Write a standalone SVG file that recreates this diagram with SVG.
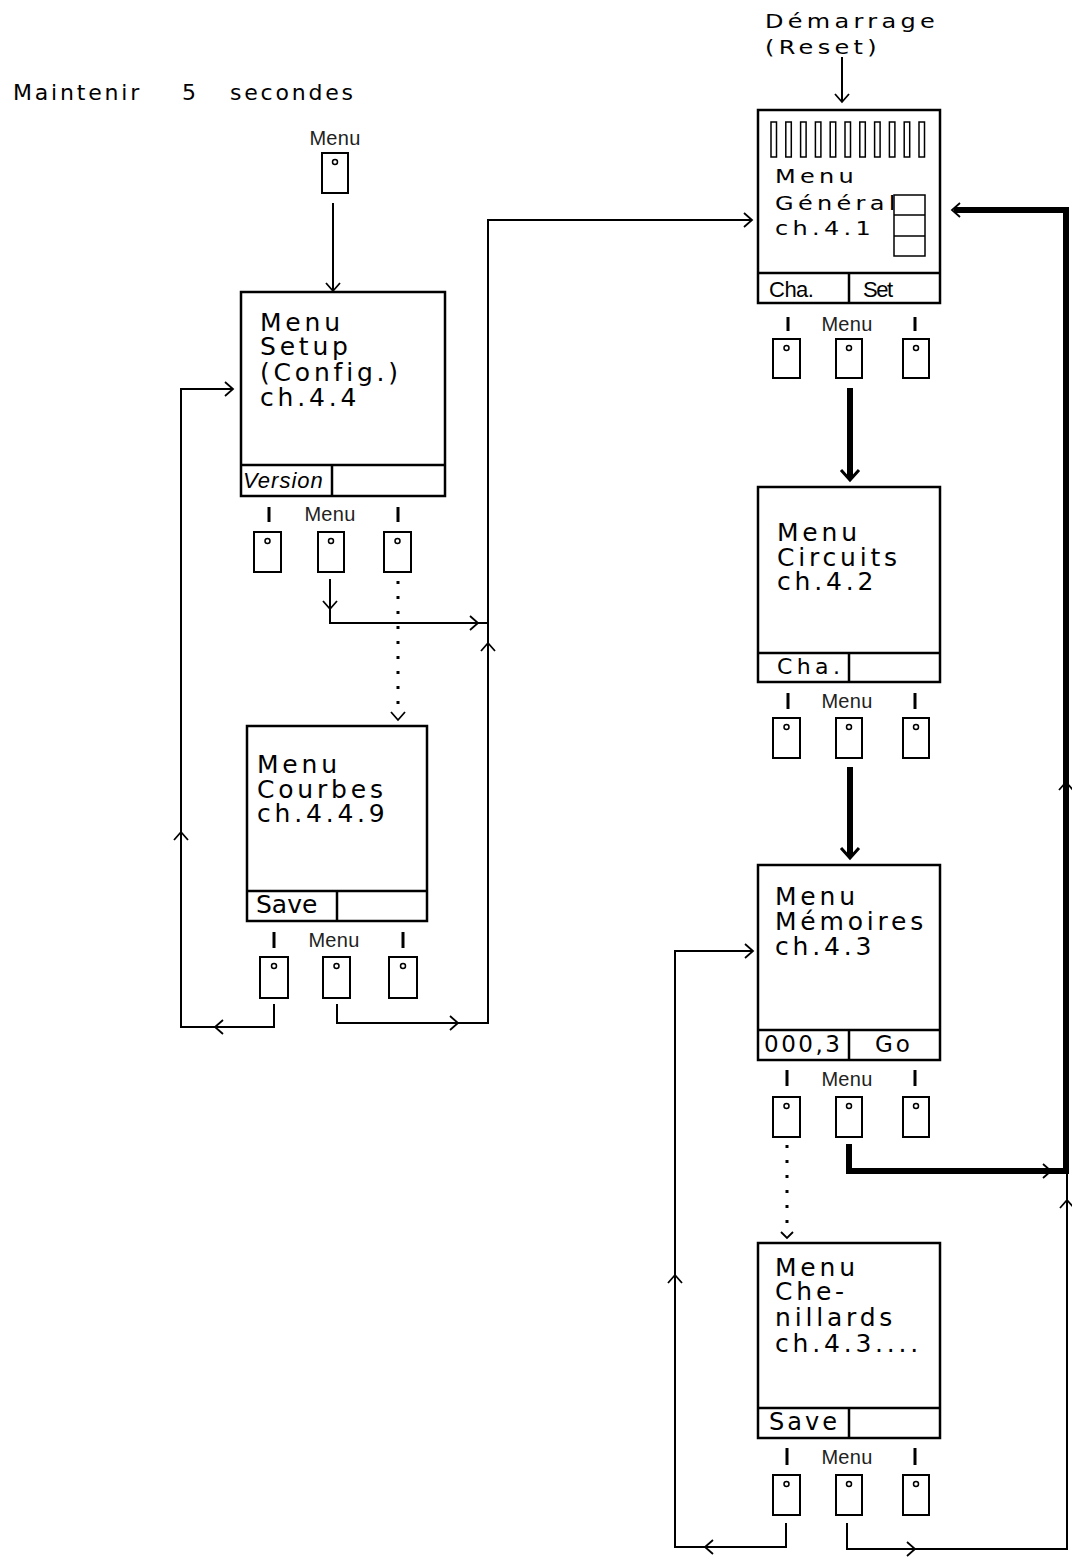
<svg xmlns="http://www.w3.org/2000/svg" xmlns:xlink="http://www.w3.org/1999/xlink" width="1072" height="1557" viewBox="0 0 1072 1557">
<style>
.box{fill:#fff;stroke:#000;stroke-width:2.5}
.sep{fill:none;stroke:#000;stroke-width:2.5}
.thin{fill:none;stroke:#000;stroke-width:1.5}
.t{font-family:"DejaVu Sans",Verdana,sans-serif;font-size:25px;letter-spacing:3.8px;fill:#000}
.tg{font-family:"DejaVu Sans",Verdana,sans-serif;font-size:20px;letter-spacing:3.6px;fill:#000}
.d{font-family:"DejaVu Sans",Verdana,sans-serif;fill:#000}
.f{font-family:"Liberation Sans",Arial,sans-serif;font-size:22px;fill:#000}
.lbl{font-family:"Liberation Sans",Arial,sans-serif;font-size:20px;letter-spacing:0.3px;fill:#222;text-anchor:middle}
.hdr{font-family:"DejaVu Sans",Verdana,sans-serif;font-size:22px;letter-spacing:2.8px;fill:#000}
.btn{fill:#fff;stroke:#000;stroke-width:2}
.bdot{fill:none;stroke:#000;stroke-width:1.5}
.tick{stroke:#000;stroke-width:3}
.ln{fill:none;stroke:#000;stroke-width:2}
.thk{fill:none;stroke:#000;stroke-width:6}
.dots{fill:none;stroke:#000;stroke-width:3;stroke-dasharray:3 12}
.ah{fill:none;stroke:#000;stroke-width:1.8}
.ahT{fill:none;stroke:#000;stroke-width:3}
</style>
<defs>
<path id="ah" d="M-8,-7 L0,0 L-8,7"/>
<path id="ahS" d="M-6,-6 L0,0 L-6,6"/>
<path id="ahT" d="M-10,-9 L0,0 L-10,9"/>
</defs>

<rect x="0" y="0" width="1072" height="1557" fill="#fff"/>

<text class="hdr" y="100"><tspan x="13">Maintenir</tspan><tspan x="182">5</tspan><tspan x="230">secondes</tspan></text>
<text class="tg" transform="translate(765,0) scale(1.2,1)" font-size="21" letter-spacing="2"><tspan x="0" y="28">Démarrage</tspan><tspan x="0" y="54">(Reset)</tspan></text>

<g id="connectors">
  <line class="ln" x1="842" y1="57" x2="842" y2="101"/>
  <use href="#ah" class="ah" transform="translate(842,102) rotate(90)"/>
  <line class="ln" x1="333" y1="203" x2="333" y2="290"/>
  <use href="#ah" class="ah" transform="translate(333,291) rotate(90)"/>
  <path class="ln" d="M330,579 V623 H488"/>
  <use href="#ah" class="ah" transform="translate(330,609) rotate(90)"/>
  <use href="#ah" class="ah" transform="translate(478,623)"/>
  <path class="ln" d="M337,1004 V1023 H488 V220 H752"/>
  <use href="#ah" class="ah" transform="translate(458,1023)"/>
  <use href="#ah" class="ah" transform="translate(488,643) rotate(-90)"/>
  <use href="#ah" class="ah" transform="translate(752,220)"/>
  <line class="dots" x1="398" y1="581" x2="398" y2="716"/>
  <use href="#ah" class="ah" transform="translate(398,720) rotate(90)"/>
  <path class="ln" d="M274,1004 V1027 H181 V389 H233"/>
  <use href="#ah" class="ah" transform="translate(215,1027) rotate(180)"/>
  <use href="#ah" class="ah" transform="translate(181,832) rotate(-90)"/>
  <use href="#ah" class="ah" transform="translate(233,389)"/>
  <line class="thk" x1="850" y1="388" x2="850" y2="478"/>
  <use href="#ahT" class="ahT" transform="translate(850,480) rotate(90)"/>
  <line class="thk" x1="850" y1="767" x2="850" y2="856"/>
  <use href="#ahT" class="ahT" transform="translate(850,858) rotate(90)"/>
  <path class="thk" d="M849,1144 V1171 H1066 V210 H954"/>
  <use href="#ah" class="ah" transform="translate(1051,1171)"/>
  <use href="#ah" class="ah" transform="translate(1066,782) rotate(-90)"/>
  <use href="#ah" class="ah" transform="translate(952,210) rotate(180)"/>
  <line class="dots" x1="787" y1="1145" x2="787" y2="1232"/>
  <use href="#ahS" class="ah" transform="translate(787,1238) rotate(90)"/>
  <path class="ln" d="M786,1523 V1547 H675 V951 H752"/>
  <use href="#ah" class="ah" transform="translate(705,1547) rotate(180)"/>
  <use href="#ah" class="ah" transform="translate(675,1275) rotate(-90)"/>
  <use href="#ah" class="ah" transform="translate(753,951)"/>
  <path class="ln" d="M847,1523 V1549 H1067 V1172"/>
  <use href="#ah" class="ah" transform="translate(915,1549)"/>
  <use href="#ah" class="ah" transform="translate(1067,1200) rotate(-90)"/>
</g>

<g id="menu-key">
  <text class="lbl" x="335" y="145">Menu</text>
  <rect class="btn" x="322" y="153" width="26" height="40"/>
  <circle class="bdot" cx="335" cy="162" r="2.5"/>
</g>

<g id="node-setup">
  <rect class="box" x="241" y="292" width="204" height="204"/>
  <line class="sep" x1="241" y1="465" x2="445" y2="465"/>
  <line class="sep" x1="332" y1="465" x2="332" y2="496"/>
  <text class="t"><tspan x="260" y="331">Menu</tspan><tspan x="260" y="355">Setup</tspan><tspan x="260" y="381">(Config.)</tspan><tspan x="260" y="406">ch.4.4</tspan></text>
  <text class="f" x="243" y="488" font-style="italic" letter-spacing="1">Version</text>
  <line class="tick" x1="269" y1="507" x2="269" y2="522"/>
  <line class="tick" x1="398" y1="507" x2="398" y2="522"/>
  <text class="lbl" x="330" y="521">Menu</text>
  <rect class="btn" x="254" y="532" width="27" height="40"/><circle class="bdot" cx="267.5" cy="541" r="2.5"/>
  <rect class="btn" x="318" y="532" width="26" height="40"/><circle class="bdot" cx="331" cy="541" r="2.5"/>
  <rect class="btn" x="384" y="532" width="27" height="40"/><circle class="bdot" cx="397.5" cy="541" r="2.5"/>
</g>

<g id="node-courbes">
  <rect class="box" x="247" y="726" width="180" height="195"/>
  <line class="sep" x1="247" y1="891" x2="427" y2="891"/>
  <line class="sep" x1="337" y1="891" x2="337" y2="921"/>
  <text class="t"><tspan x="257" y="773">Menu</tspan><tspan x="257" y="798">Courbes</tspan><tspan x="257" y="822">ch.4.4.9</tspan></text>
  <text class="d" x="256" y="913" font-size="25">Save</text>
  <line class="tick" x1="274" y1="932" x2="274" y2="948"/>
  <line class="tick" x1="403" y1="932" x2="403" y2="948"/>
  <text class="lbl" x="334" y="947">Menu</text>
  <rect class="btn" x="260" y="957" width="28" height="41"/><circle class="bdot" cx="274" cy="966" r="2.5"/>
  <rect class="btn" x="323" y="957" width="27" height="41"/><circle class="bdot" cx="336.5" cy="966" r="2.5"/>
  <rect class="btn" x="389" y="957" width="28" height="41"/><circle class="bdot" cx="403" cy="966" r="2.5"/>
</g>

<g id="node-general">
  <rect class="box" x="758" y="110" width="182" height="193"/>
  <line class="sep" x1="758" y1="273" x2="940" y2="273"/>
  <line class="sep" x1="849" y1="273" x2="849" y2="303"/>
  <g class="thin">
    <rect x="771" y="122" width="5.5" height="35"/>
    <rect x="785.8" y="122" width="5.5" height="35"/>
    <rect x="800.6" y="122" width="5.5" height="35"/>
    <rect x="815.4" y="122" width="5.5" height="35"/>
    <rect x="830.2" y="122" width="5.5" height="35"/>
    <rect x="845" y="122" width="5.5" height="35"/>
    <rect x="859.8" y="122" width="5.5" height="35"/>
    <rect x="874.6" y="122" width="5.5" height="35"/>
    <rect x="889.4" y="122" width="5.5" height="35"/>
    <rect x="904.2" y="122" width="5.5" height="35"/>
    <rect x="919" y="122" width="5.5" height="35"/>
    <rect x="894" y="195" width="31" height="61"/>
    <line x1="894" y1="215" x2="925" y2="215"/>
    <line x1="894" y1="236" x2="925" y2="236"/>
  </g>
  <text class="tg" transform="translate(775,0) scale(1.2,1)"><tspan x="0" y="183">Menu</tspan><tspan x="0" y="210">Général</tspan><tspan x="0" y="235">ch.4.1</tspan></text>
  <text class="f" x="769" y="297" font-size="23" letter-spacing="-0.5">Cha.</text>
  <text class="f" x="863" y="297" font-size="23" letter-spacing="-1.5">Set</text>
  <line class="tick" x1="788" y1="317" x2="788" y2="331"/>
  <line class="tick" x1="915" y1="317" x2="915" y2="331"/>
  <text class="lbl" x="847" y="331">Menu</text>
  <rect class="btn" x="773" y="339" width="27" height="39"/><circle class="bdot" cx="786.5" cy="348" r="2.5"/>
  <rect class="btn" x="836" y="339" width="26" height="39"/><circle class="bdot" cx="849" cy="348" r="2.5"/>
  <rect class="btn" x="903" y="339" width="26" height="39"/><circle class="bdot" cx="916" cy="348" r="2.5"/>
</g>

<g id="node-circuits">
  <rect class="box" x="758" y="487" width="182" height="195"/>
  <line class="sep" x1="758" y1="653" x2="940" y2="653"/>
  <line class="sep" x1="849" y1="653" x2="849" y2="682"/>
  <text class="t"><tspan x="777" y="541">Menu</tspan><tspan x="777" y="566">Circuits</tspan><tspan x="777" y="590">ch.4.2</tspan></text>
  <text class="d" x="777" y="674" font-size="22" letter-spacing="4.4">Cha.</text>
  <line class="tick" x1="788" y1="693" x2="788" y2="709"/>
  <line class="tick" x1="915" y1="693" x2="915" y2="709"/>
  <text class="lbl" x="847" y="708">Menu</text>
  <rect class="btn" x="773" y="718" width="27" height="40"/><circle class="bdot" cx="786.5" cy="727" r="2.5"/>
  <rect class="btn" x="836" y="718" width="26" height="40"/><circle class="bdot" cx="849" cy="727" r="2.5"/>
  <rect class="btn" x="903" y="718" width="26" height="40"/><circle class="bdot" cx="916" cy="727" r="2.5"/>
</g>

<g id="node-memoires">
  <rect class="box" x="758" y="865" width="182" height="195"/>
  <line class="sep" x1="758" y1="1030" x2="940" y2="1030"/>
  <line class="sep" x1="849" y1="1030" x2="849" y2="1060"/>
  <text class="t"><tspan x="775" y="905">Menu</tspan><tspan x="775" y="930">Mémoires</tspan><tspan x="775" y="955">ch.4.3</tspan></text>
  <text class="d" x="764" y="1052" font-size="23" letter-spacing="2.5">000,3</text>
  <text class="d" x="875" y="1052" font-size="23" letter-spacing="3">Go</text>
  <line class="tick" x1="787" y1="1070" x2="787" y2="1086"/>
  <line class="tick" x1="915" y1="1070" x2="915" y2="1086"/>
  <text class="lbl" x="847" y="1086">Menu</text>
  <rect class="btn" x="773" y="1097" width="27" height="40"/><circle class="bdot" cx="786.5" cy="1106" r="2.5"/>
  <rect class="btn" x="836" y="1097" width="26" height="40"/><circle class="bdot" cx="849" cy="1106" r="2.5"/>
  <rect class="btn" x="903" y="1097" width="26" height="40"/><circle class="bdot" cx="916" cy="1106" r="2.5"/>
</g>

<g id="node-chenillards">
  <rect class="box" x="758" y="1243" width="182" height="195"/>
  <line class="sep" x1="758" y1="1408" x2="940" y2="1408"/>
  <line class="sep" x1="849" y1="1408" x2="849" y2="1438"/>
  <text class="t"><tspan x="775" y="1276">Menu</tspan><tspan x="775" y="1300">Che-</tspan><tspan x="775" y="1326">nillards</tspan><tspan x="775" y="1352">ch.4.3....</tspan></text>
  <text class="d" x="769" y="1430" font-size="24" letter-spacing="3">Save</text>
  <line class="tick" x1="787" y1="1448" x2="787" y2="1465"/>
  <line class="tick" x1="915" y1="1448" x2="915" y2="1465"/>
  <text class="lbl" x="847" y="1464">Menu</text>
  <rect class="btn" x="773" y="1475" width="27" height="40"/><circle class="bdot" cx="786.5" cy="1484" r="2.5"/>
  <rect class="btn" x="836" y="1475" width="26" height="40"/><circle class="bdot" cx="849" cy="1484" r="2.5"/>
  <rect class="btn" x="903" y="1475" width="26" height="40"/><circle class="bdot" cx="916" cy="1484" r="2.5"/>
</g>
</svg>
